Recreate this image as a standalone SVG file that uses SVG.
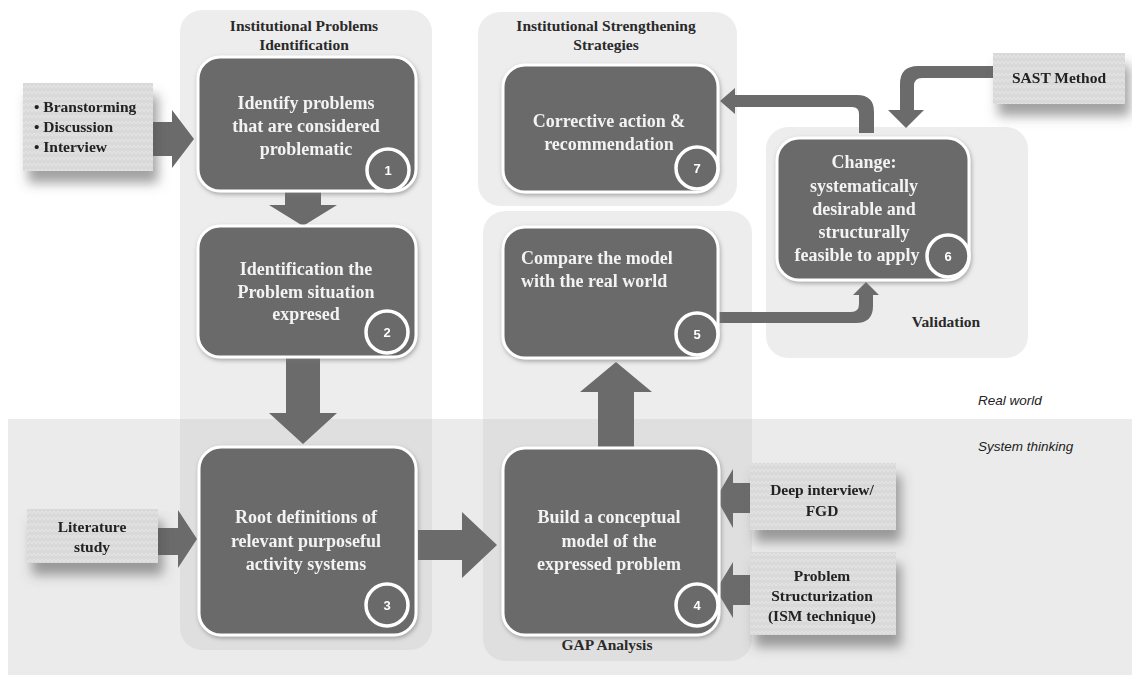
<svg xmlns="http://www.w3.org/2000/svg" width="1132" height="682" viewBox="0 0 1132 682">
  <defs>
    <style>
      .band { fill: #ebebeb; }
      .panel { fill: #c8c8c8; fill-opacity: 0.33; }
      .node { fill: #6a6a6a; stroke: #ffffff; stroke-width: 3; }
      .ntext { font-family: "Liberation Serif", "DejaVu Serif", serif; font-weight: bold; font-size: 18px; fill: #f3f3f3; text-anchor: middle; }
      .badge { fill: #6a6a6a; stroke: #ffffff; stroke-width: 3.5; }
      .btext { font-family: "Liberation Sans", Arial, sans-serif; font-weight: bold; font-size: 13px; fill: #ffffff; text-anchor: middle; }
      .side { fill: url(#zig); }
      .stext { font-family: "Liberation Serif", "DejaVu Serif", serif; font-weight: bold; font-size: 15.5px; fill: #222222; text-anchor: middle; }
      .left { text-anchor: start; }
      .title { font-family: "Liberation Serif", "DejaVu Serif", serif; font-weight: bold; font-size: 15.5px; fill: #2a2a2a; text-anchor: middle; }
      .zone { font-family: "Liberation Sans", Arial, sans-serif; font-style: italic; font-size: 13.5px; fill: #222222; }
      .arrow { fill: #6b6b6b; }
    </style>
    <pattern id="zig" width="8" height="6" patternUnits="userSpaceOnUse">
      <rect width="8" height="6" fill="#d9d9d9"/>
      <polyline points="0,4 2,1 4,4 6,1 8,4" fill="none" stroke="#e6e6e6" stroke-width="1"/>
    </pattern>
    <filter id="boxShadow" x="-20%" y="-20%" width="150%" height="170%">
      <feGaussianBlur in="SourceAlpha" stdDeviation="6"/>
      <feOffset dx="5" dy="12" result="b"/>
      <feFlood flood-color="#555555" flood-opacity="0.55"/>
      <feComposite in2="b" operator="in"/>
      <feMerge><feMergeNode/><feMergeNode in="SourceGraphic"/></feMerge>
    </filter>
    <filter id="nodeShadow" x="-10%" y="-10%" width="125%" height="125%">
      <feGaussianBlur in="SourceAlpha" stdDeviation="2"/>
      <feOffset dx="1" dy="2" result="b"/>
      <feFlood flood-color="#777777" flood-opacity="0.6"/>
      <feComposite in2="b" operator="in"/>
      <feMerge><feMergeNode/><feMergeNode in="SourceGraphic"/></feMerge>
    </filter>
  </defs>

  <!-- backdrop: real world (white) above, system thinking band below -->
  <rect width="1132" height="682" fill="#ffffff"/>
  <rect class="band" x="8" y="419" width="1124" height="256"/>

  <!-- stage panels -->
  <g id="panels">
    <rect class="panel" x="180" y="10" width="252" height="640" rx="22"/>
    <rect class="panel" x="478" y="12" width="259" height="194" rx="22"/>
    <rect class="panel" x="483" y="211" width="269" height="450" rx="22"/>
    <rect class="panel" x="766" y="127" width="262" height="231" rx="22"/>
    <text class="title" x="304" y="31">Institutional Problems</text>
    <text class="title" x="304" y="50">Identification</text>
    <text class="title" x="606" y="31">Institutional  Strengthening</text>
    <text class="title" x="606" y="50">Strategies</text>
    <text class="title" x="607" y="650">GAP Analysis</text>
    <text class="title" x="946" y="327">Validation</text>
  </g>

  <text class="zone" x="978" y="405">Real world</text>
  <text class="zone" x="978" y="451">System thinking</text>

  <!-- connectors -->
  <g id="connectors">
    <path class="arrow" d="M153,122 H172 V110 L194,139 L172,168 V156 H153 Z"/>
    <path class="arrow" d="M285,190 H321 V205 H337 L303,226 L269,205 H285 Z"/>
    <path class="arrow" d="M286,355 H320 V413 H337 L303,444 L269,413 H286 Z"/>
    <path class="arrow" d="M158,528 H178 V510 L197,539 L178,568 V555 H158 Z"/>
    <path class="arrow" d="M418,530 H462 V512 L497,545 L462,578 V560 H418 Z"/>
    <path class="arrow" d="M598,447 V392 H580 L616,362 L652,392 H634 V447 Z"/>
    <path class="arrow" d="M718,312 H851 Q859,312 859,304 V295 H853 L866,282 L879,295 H873 V306 Q873,323 856,323 H718 Z"/>
    <path class="arrow" d="M874,133 V112 Q874,95 857,95 H735 V88 L720,101 L735,114 V107 H852 Q859,107 859,114 V133 Z"/>
    <path class="arrow" d="M993,66 H918 Q900,66 900,84 V110 H888 L906,128 L924,110 H914 V86 Q914,78 922,78 H993 Z"/>
    <path class="arrow" d="M752,483 H733 V469 L716,498 L733,528 V513 H752 Z"/>
    <path class="arrow" d="M752,575 H733 V562 L716,590 L733,618 V605 H752 Z"/>
  </g>

  <!-- input boxes -->
  <g id="in-methods" filter="url(#boxShadow)">
    <rect class="side" x="23" y="83" width="130" height="88"/>
    <text class="stext left" x="34" y="112">• Branstorming</text>
    <text class="stext left" x="34" y="132">• Discussion</text>
    <text class="stext left" x="34" y="152">• Interview</text>
  </g>
  <g id="in-literature" filter="url(#boxShadow)">
    <rect class="side" x="27" y="509" width="131" height="54"/>
    <text class="stext" x="92" y="532">Literature</text>
    <text class="stext" x="92" y="552">study</text>
  </g>
  <g id="in-sast" filter="url(#boxShadow)">
    <rect class="side" x="993" y="53" width="132" height="51"/>
    <text class="stext" x="1059" y="83">SAST Method</text>
  </g>
  <g id="in-interview" filter="url(#boxShadow)">
    <rect class="side" x="750" y="463" width="146" height="67"/>
    <text class="stext" x="822" y="495">Deep interview/</text>
    <text class="stext" x="822" y="516">FGD</text>
  </g>
  <g id="in-ism" filter="url(#boxShadow)">
    <rect class="side" x="750" y="552" width="146" height="83"/>
    <text class="stext" x="822" y="581">Problem</text>
    <text class="stext" x="822" y="601">Structurization</text>
    <text class="stext" x="822" y="621">(ISM technique)</text>
  </g>

  <!-- process steps -->
  <g id="step1" filter="url(#nodeShadow)">
    <rect class="node" x="198" y="57" width="218" height="134" rx="22"/>
    <text class="ntext" x="306" y="109">Identify problems</text>
    <text class="ntext" x="306" y="132">that are considered</text>
    <text class="ntext" x="306" y="155">problematic</text>
    <circle class="badge" cx="388" cy="170" r="21"/>
    <text class="btext" x="388" y="175">1</text>
  </g>
  <g id="step2" filter="url(#nodeShadow)">
    <rect class="node" x="198" y="226" width="218" height="131" rx="22"/>
    <text class="ntext" x="306" y="275">Identification the</text>
    <text class="ntext" x="306" y="298">Problem situation</text>
    <text class="ntext" x="306" y="320">expresed</text>
    <circle class="badge" cx="387" cy="332" r="21"/>
    <text class="btext" x="387" y="337">2</text>
  </g>
  <g id="step3" filter="url(#nodeShadow)">
    <rect class="node" x="199" y="447" width="217" height="188" rx="22"/>
    <text class="ntext" x="306" y="523">Root definitions of</text>
    <text class="ntext" x="306" y="547">relevant purposeful</text>
    <text class="ntext" x="306" y="570">activity systems</text>
    <circle class="badge" cx="387" cy="605" r="21"/>
    <text class="btext" x="387" y="610">3</text>
  </g>
  <g id="step4" filter="url(#nodeShadow)">
    <rect class="node" x="503" y="448" width="216" height="187" rx="22"/>
    <text class="ntext" x="609" y="523">Build a conceptual</text>
    <text class="ntext" x="609" y="547">model of the</text>
    <text class="ntext" x="609" y="570">expressed problem</text>
    <circle class="badge" cx="697" cy="605" r="21"/>
    <text class="btext" x="697" y="610">4</text>
  </g>
  <g id="step5" filter="url(#nodeShadow)">
    <rect class="node" x="503" y="227" width="215" height="131" rx="22"/>
    <text class="ntext left" x="521" y="264">Compare the model</text>
    <text class="ntext left" x="521" y="287">with the real world</text>
    <circle class="badge" cx="697" cy="334" r="21"/>
    <text class="btext" x="697" y="339">5</text>
  </g>
  <g id="step6" filter="url(#nodeShadow)">
    <rect class="node" x="777" y="138" width="192" height="142" rx="22"/>
    <text class="ntext" x="864" y="168">Change:</text>
    <text class="ntext" x="864" y="192">systematically</text>
    <text class="ntext" x="864" y="215">desirable and</text>
    <text class="ntext" x="864" y="238">structurally</text>
    <text class="ntext" x="857" y="261">feasible to apply</text>
    <circle class="badge" cx="948" cy="256" r="21"/>
    <text class="btext" x="948" y="261">6</text>
  </g>
  <g id="step7" filter="url(#nodeShadow)">
    <rect class="node" x="503" y="65" width="215" height="127" rx="22"/>
    <text class="ntext" x="609" y="127">Corrective action &amp;</text>
    <text class="ntext" x="609" y="150">recommendation</text>
    <circle class="badge" cx="697" cy="168" r="21"/>
    <text class="btext" x="697" y="173">7</text>
  </g>
</svg>
